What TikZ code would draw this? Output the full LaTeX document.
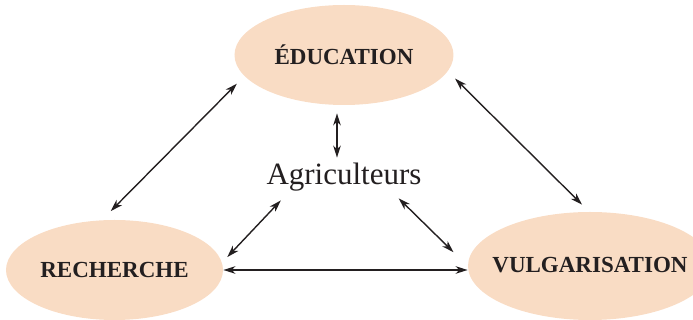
\documentclass[tikz,border=0pt]{standalone}
\usepackage{fontspec}
\setmainfont{Liberation Serif}
\usetikzlibrary{shapes.geometric, arrows.meta, positioning}
\definecolor{zonecolor}{RGB}{249,220,196}
\definecolor{inkcolor}{RGB}{35,31,32}

\begin{document}
\begin{tikzpicture}[
    x=0.5pt, y=-0.5pt,
    zone/.style={ellipse, fill=zonecolor, inner sep=0pt},
    zonename/.style={font=\fontsize{11.5}{13}\selectfont\bfseries, text=inkcolor},
    arrow/.style={<->, >={Stealth[length=6pt, width=3.8pt, inset=1.8pt]}, line width=0.7pt, draw=inkcolor}
]
    \useasboundingbox (0,0) rectangle (693,320);

    % The three partners
    \node[zone, minimum width=109.5pt, minimum height=50pt,
          label={[zonename]center:ÉDUCATION}] (edu) at (344,55) {};
    \node[zone, minimum width=108.5pt, minimum height=50pt,
          label={[zonename]center:RECHERCHE}] (rec) at (114.5,270) {};
    \node[zone, minimum width=122pt, minimum height=54pt,
          label={[zonename, yshift=0.6pt]center:VULGARISATION}] (vul) at (590,266) {};

    % Farmers in the middle
    \node[font=\fontsize{15.5}{18}\selectfont, text=inkcolor, text height=10pt, text depth=3.5pt,
          inner xsep=0pt, inner ysep=3pt] (agri) at (344,178.5) {Agriculteurs};

    % Two-way links
    \draw[arrow, shorten <=5.3pt, shorten >=6.2pt] (edu.192.3) -- (rec.104.9);
    \draw[arrow, shorten <=5.1pt, shorten >=4.95pt] (edu.351.2) -- (vul.91.4);
    \draw[arrow, shorten <=4pt, shorten >=0.5pt] ([xshift=-3.5pt]edu.south) -- ([xshift=-3.5pt]agri.north);
    \draw[arrow, shorten <=1.4pt, shorten >=3.7pt] (agri.198.2) -- (rec.4.7);
    \draw[arrow, shorten >=9.9pt] (agri.340.7) -- (vul.west);
    \draw[arrow] (rec.east) -- (rec.east -| vul.west);

\end{tikzpicture}
\end{document}
